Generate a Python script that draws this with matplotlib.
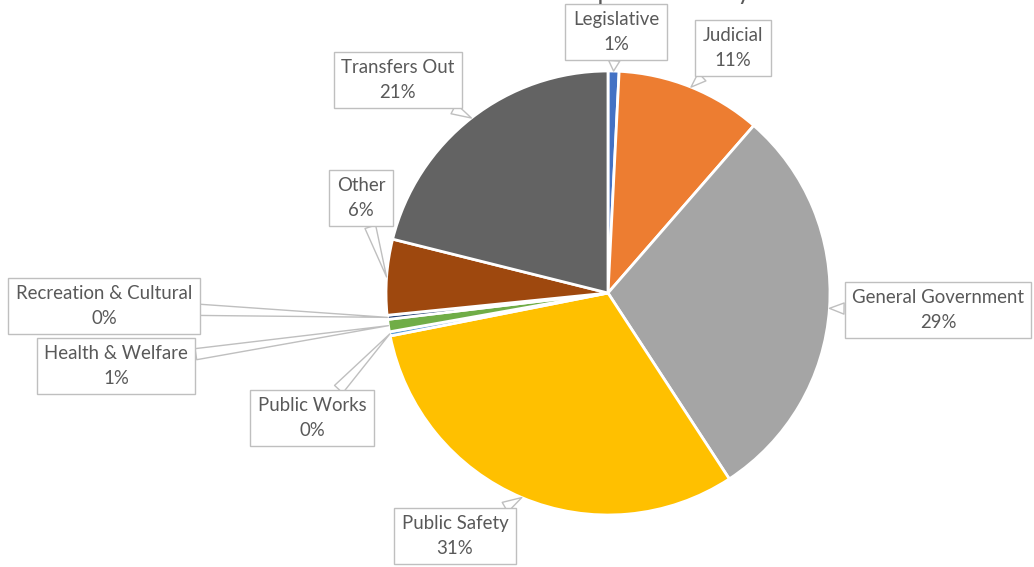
import numpy as np
import matplotlib.pyplot as plt

# Expenditure shares (percent), clockwise from 12 o'clock
categories = ["Legislative", "Judicial", "General Government", "Public Safety",
              "Public Works", "Health & Welfare", "Recreation & Cultural",
              "Other", "Transfers Out"]
shares = [0.8, 10.6, 29.4, 31.1, 0.3, 0.9, 0.3, 5.5, 21.1]
colors = ["#4472C4", "#ED7D31", "#A5A5A5", "#FFC000", "#5B9BD5",
          "#70AD47", "#264478", "#9E480E", "#636363"]

# callout box centres in pixels (x, y from top)
label_pos = [(616, 32), (733, 48), (938, 310), (455, 536), (312, 418),
             (116, 366), (104, 306), (361, 198), (398, 80)]

W, H = 1034, 567
fig = plt.figure(figsize=(W / 100, H / 100), dpi=100)
ax = fig.add_axes([0, 0, 1, 1])

cx, cy, r = 608, H - 293, 222
wedges, _ = ax.pie(shares, colors=colors, startangle=90, counterclock=False,
                   center=(cx, cy), radius=r, frame=True,
                   wedgeprops=dict(edgecolor="white", linewidth=2))
ax.set_xlim(0, W)
ax.set_ylim(0, H)
ax.axis("off")

total = sum(shares)
for w, name, val, (lx, ly) in zip(wedges, categories, shares, label_pos):
    mid = np.deg2rad((w.theta1 + w.theta2) / 2)
    tx, ty = cx + r * np.cos(mid), cy + r * np.sin(mid)
    ax.annotate(f"{name}\n{val / total * 100:.0f}%", xy=(tx, ty), xytext=(lx, H - ly),
                ha="center", va="center", fontsize=13.4, family="Lato",
                color="#595959", linespacing=1.55,
                bbox=dict(boxstyle="square,pad=0.4", fc="white", ec="#BFBFBF", lw=1),
                arrowprops=dict(arrowstyle="wedge,tail_width=0.6,shrink_factor=0.5",
                                fc="white", ec="#BFBFBF", lw=1,
                                shrinkA=0, shrinkB=0))

# chart title, cut off at the top edge as in the original
fig.text(570 / W, 1 + 1 / H, "Expenditures by Function", ha="left", va="baseline",
         fontsize=18.4, family="Lato", color="#595959")

plt.savefig("out.png", dpi=100)
